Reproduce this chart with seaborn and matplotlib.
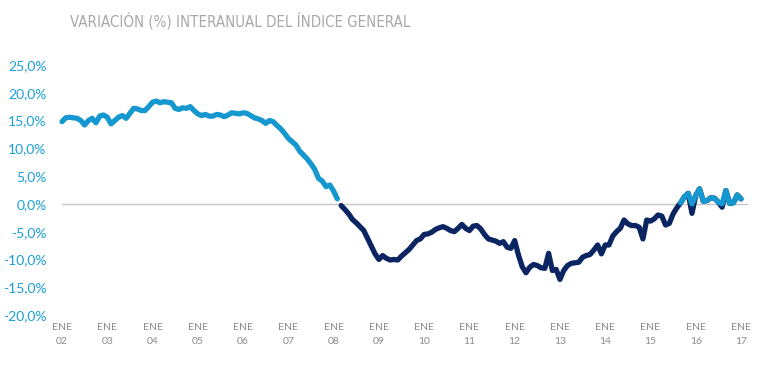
import numpy as np
import pandas as pd
import seaborn as sns
import matplotlib.pyplot as plt

title = 'VARIACIÓN (%) INTERANUAL DEL ÍNDICE GENERAL'
years = list(range(2002, 2018))
tick_labels = ['ENE\n%02d' % (y % 100) for y in years]
y_ticks = [-20, -15, -10, -5, 0, 5, 10, 15, 20, 25]

# variacion interanual mensual (%), ene-2002 .. ene-2017
yoy_2002 = [14.8, 15.5, 15.6, 15.5, 15.4, 15.0, 14.2, 15.0, 15.4, 14.6, 15.8, 16.0]
yoy_2003 = [15.6, 14.4, 15.0, 15.6, 15.9, 15.4, 16.3, 17.2, 17.1, 16.8, 16.8, 17.5]
yoy_2004 = [18.3, 18.5, 18.2, 18.4, 18.3, 18.2, 17.2, 17.0, 17.3, 17.2, 17.5, 16.8]
yoy_2005 = [16.2, 15.9, 16.1, 15.8, 15.8, 16.1, 16.0, 15.7, 16.0, 16.4, 16.3, 16.2]
yoy_2006 = [16.4, 16.3, 15.9, 15.5, 15.3, 15.0, 14.5, 15.0, 14.8, 14.1, 13.5, 12.7]
yoy_2007 = [11.8, 11.2, 10.6, 9.5, 8.8, 8.1, 7.2, 6.2, 4.6, 4.1, 3.1, 3.4]
yoy_2008 = [2.3, 0.9, -0.3, -1.0, -1.8, -2.8, -3.4, -4.1, -4.8, -6.2, -7.6, -9.0]
yoy_2009 = [-10.0, -9.3, -9.8, -10.1, -10.0, -10.1, -9.4, -8.8, -8.2, -7.4, -6.6, -6.3]
yoy_2010 = [-5.5, -5.4, -5.1, -4.6, -4.3, -4.1, -4.4, -4.8, -5.0, -4.4, -3.7, -4.4]
yoy_2011 = [-4.8, -4.0, -3.9, -4.5, -5.5, -6.3, -6.5, -6.7, -7.1, -6.8, -7.8, -8.0]
yoy_2012 = [-6.6, -9.2, -11.3, -12.4, -11.4, -10.9, -11.1, -11.5, -11.6, -8.9, -12.0, -11.8]
yoy_2013 = [-13.6, -12.0, -11.1, -10.7, -10.6, -10.5, -9.6, -9.3, -9.1, -8.3, -7.4, -9.0]
yoy_2014 = [-7.4, -7.4, -5.8, -5.0, -4.4, -2.9, -3.6, -3.9, -3.9, -4.2, -6.3, -2.9]
yoy_2015 = [-3.1, -2.7, -2.0, -2.2, -3.8, -3.5, -1.8, -0.7, 0.2, 1.3, 1.9, -1.7]
yoy_2016 = [1.5, 2.7, 0.5, 0.6, 1.1, 1.0, 0.3, -0.6, 2.4, 0.1, 0.2, 1.6]
yoy_2017 = [0.9]

yoy = (yoy_2002 + yoy_2003 + yoy_2004 + yoy_2005 + yoy_2006 + yoy_2007 + yoy_2008
       + yoy_2009 + yoy_2010 + yoy_2011 + yoy_2012 + yoy_2013 + yoy_2014 + yoy_2015
       + yoy_2016 + yoy_2017)

first_dark = 74      # mar-2008, la serie pasa a negativo
back_positive = 164  # sep-2015, vuelve a positivo

light_blue = '#1597d0'
dark_blue = '#0b2563'

vals = np.array(yoy)
mes = np.arange(len(vals))
light_a = pd.DataFrame({'mes': mes[:first_dark], 'var': vals[:first_dark]})
dark = pd.DataFrame({'mes': mes[first_dark:], 'var': vals[first_dark:]})
light_b = pd.DataFrame({'mes': mes[back_positive:],
                        'var': np.clip(vals[back_positive:], 0, None)})

sns.set_style('white')
plt.rcParams['font.family'] = ['Lato', 'DejaVu Sans']

fig = plt.figure(figsize=(7.7, 3.75), dpi=100)
ax = fig.add_axes([62 / 770, 60 / 375, 686 / 770, 250 / 375])

ax.axhline(0, color='#c6c6c6', lw=1, zorder=1)
line_kw = dict(lw=3.8, solid_capstyle='round', solid_joinstyle='round',
               clip_on=False, zorder=3)
sns.lineplot(data=dark, x='mes', y='var', color=dark_blue, ax=ax, **line_kw)
sns.lineplot(data=light_a, x='mes', y='var', color=light_blue, ax=ax, **line_kw)
sns.lineplot(data=light_b, x='mes', y='var', color=light_blue, ax=ax, **line_kw)

ax.set_xlim(0, 180 * 686 / 679)
ax.set_ylim(-20, 25)
ax.set_xticks([12 * i for i in range(len(years))])
ax.set_xticklabels(tick_labels, linespacing=1.6)
ax.set_yticks(y_ticks)
ax.set_yticklabels([('%.1f%%' % v).replace('.', ',') for v in y_ticks])
ax.tick_params(axis='x', length=0, pad=6, labelsize=7.5, labelcolor='#8c8c8c')
ax.tick_params(axis='y', length=0, pad=11, labelsize=10, labelcolor='#1a9fd9')
ax.set_xlabel('')
ax.set_ylabel('')
for s in ax.spines.values():
    s.set_visible(False)

fig.text(70 / 770, 1 - 21 / 375, title, ha='left', va='center', fontsize=10.8,
         fontstretch='condensed', color='#a8a8a8', family=['DejaVu Sans'])

fig.savefig('out.png', dpi=100)
